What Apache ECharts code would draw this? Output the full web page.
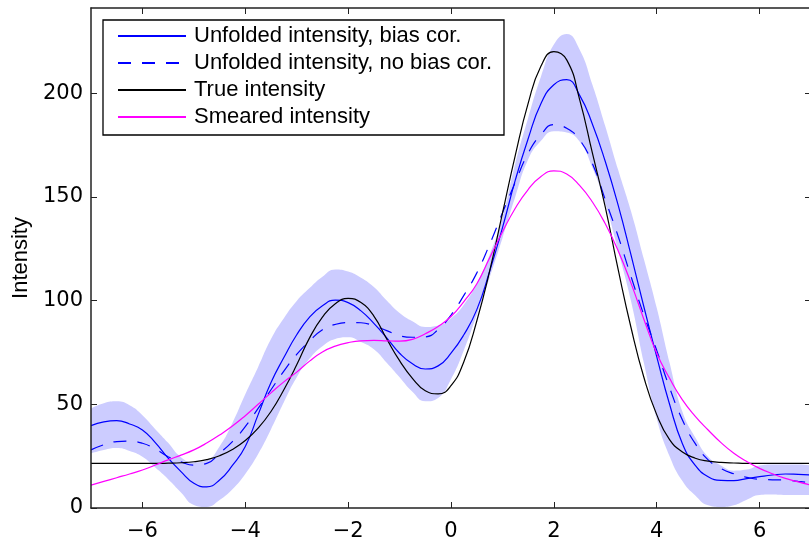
<!DOCTYPE html>
<html>
<head>
<meta charset="utf-8">
<script src="https://cdn.jsdelivr.net/npm/echarts@6/dist/echarts.min.js"></script>
<style>html,body{margin:0;padding:0;background:#fff}#chart{width:809px;height:538px}</style>
</head>
<body>
<div id="chart"></div>
<script>
const xs = [-7,-6.75,-6.5,-6.25,-6,-5.75,-5.5,-5.25,-5,-4.75,-4.5,-4.25,-4,-3.75,-3.5,-3.25,-3,-2.75,-2.5,-2.25,-2,-1.75,-1.5,-1.25,-1,-0.75,-0.5,-0.25,0,0.25,0.5,0.75,1,1.25,1.5,1.75,2,2.25,2.5,2.75,3,3.25,3.5,3.75,4,4.25,4.5,4.75,5,5.25,5.5,5.75,6,6.25,6.5,6.75,7];

const trueIntensity = [21.5,21.5,21.5,21.5,21.5,21.5,21.6,21.8,22.3,23.3,25.2,28.2,32.5,38.5,46.5,57,69,82,92,98.5,101,99,92.5,81.5,71,62.5,56.5,55,59,70.5,90,114,142,170,195,213,220,216,197,171,145,115,87,63,45,33,27,24,22.6,22,21.7,21.5,21.5,21.5,21.5,21.5,21.5];

const smearedIntensity = [11,12.8,14.6,16.4,18.3,20.7,23.2,25.5,28,31.3,35.2,39.5,44.5,50,55.5,60.8,65.5,70.8,75.2,78,79.7,80.6,80.8,80.6,80.4,81.3,84,87.5,92.3,99.5,108,120.5,133,144.5,153.5,159.8,162.5,161,155.5,147.5,137,124,108.4,91,74.6,62.5,52.1,44.2,37.6,31.5,26.4,22.4,19.1,16.5,14.3,12.6,11.1];

const unfoldedBiasCor = [39.7,41.5,42.1,40.5,37.6,31.5,24,17.5,11.9,10.2,13.5,20.5,29.6,45,60.5,72.5,83.5,92,97.5,100.2,99,95,89,82,74.6,69.5,67,68.5,74.6,83.5,95.5,114,135,158,178,195,204,206.5,199,185,167,146,122,97,73,50,31,20.5,15.1,13.3,13.2,14.2,15.1,15.9,16.4,16.2,15.9];

const unfoldedNoBiasCor = [28,30.5,32,32.2,31.2,28.5,24.7,22.2,20.7,21.5,26.4,32,39.2,48,57,66,74,80.5,85.9,88.5,89.4,89.3,87.8,85.5,83,82.3,82.5,86,93,102.5,113.2,127,142.2,157,171,180,184.8,183,177.5,166,148.6,131,111.6,93,76,58,42.4,31,23.2,19,16.5,14.8,13.8,13.6,13.5,12.8,12.2];

const bandUpper = [48,50.5,51.4,49.5,44.7,38,31.4,24.5,22,23,29.7,41,54.8,68,81.5,91.5,99.8,106,111.5,115,114,111,106.5,100,94,90,87.3,88,91.5,98,108.2,122,140,166,188,208,223.4,228.5,221,204,184,163,143,120,96.5,70,46.4,34,24.7,20.5,18,18.5,20.5,21,21,21,20.5];

const bandLower = [26.4,28,28.9,27.5,24.7,19.5,13.9,7.5,1.5,0.5,3.8,9,16.4,26,38,51,63,72,78,81.5,82.3,80,76.5,70,63,56,51.4,53,62,76,93,111,130,150,168,177,181.6,181,176.6,164,146.6,124,99.8,70,43,25,13,6,1.3,0.5,1.3,4,6.3,6.5,6.3,6.3,6.3];

const xTicks = [-6,-4,-2,0,2,4,6];
const yTicks = [0,50,100,150,200];
const seriesNames = ['Unfolded intensity, bias cor.','Unfolded intensity, no bias cor.','True intensity','Smeared intensity'];

const pair = arr => xs.map((x, i) => [x, arr[i]]);
const FONT = "'Liberation Sans', Arial, Helvetica, sans-serif";
const TICKFONT = "'DejaVu Sans', sans-serif";
const fmt = v => String(v).replace('-', '\u2212');

const axisLineStyle = { color: '#222', width: 1.5 };
const tickStyle = { color: '#222', width: 1 };

const chart = echarts.init(document.getElementById('chart'), null, { renderer: 'canvas' });
chart.setOption({
  animation: false,
  backgroundColor: '#fff',
  grid: { left: 91, right: -2, top: 8, bottom: 30, containLabel: false, outerBoundsMode: 'none' },
  xAxis: [
    {
      type: 'value', min: -7, max: 7, position: 'bottom', z: 10,
      axisLine: { show: true, onZero: false, lineStyle: axisLineStyle },
      axisTick: { show: true, inside: true, length: 6, lineStyle: tickStyle, customValues: xTicks },
      axisLabel: { show: true, customValues: xTicks, formatter: fmt, margin: 13, color: '#000', fontSize: 21, fontFamily: TICKFONT },
      splitLine: { show: false }
    },
    {
      type: 'value', min: -7, max: 7, position: 'top', z: 10,
      axisLine: { show: true, onZero: false, lineStyle: axisLineStyle },
      axisTick: { show: true, inside: true, length: 6, lineStyle: tickStyle, customValues: xTicks },
      axisLabel: { show: false },
      splitLine: { show: false }
    }
  ],
  yAxis: [
    {
      type: 'value', min: 0, max: 241, position: 'left', z: 10,
      name: 'Intensity', nameLocation: 'middle', nameRotate: 90, nameGap: 57,
      nameTextStyle: { color: '#000', fontSize: 22, fontFamily: FONT },
      axisLine: { show: true, onZero: false, lineStyle: axisLineStyle },
      axisTick: { show: true, inside: true, length: 6, lineStyle: tickStyle, customValues: yTicks },
      axisLabel: { show: true, customValues: yTicks, margin: 8, padding: [5, 0, 0, 0], color: '#000', fontSize: 21, fontFamily: TICKFONT },
      splitLine: { show: false }
    },
    {
      type: 'value', min: 0, max: 241, position: 'right', z: 10,
      axisLine: { show: true, onZero: false, lineStyle: axisLineStyle },
      axisTick: { show: true, inside: true, length: 6, lineStyle: tickStyle, customValues: yTicks },
      axisLabel: { show: false },
      splitLine: { show: false }
    }
  ],
  legend: {
    data: seriesNames,
    orient: 'vertical',
    left: 103, top: 20, z: 20,
    padding: [5, 12, 7, 14],
    itemGap: 5,
    itemWidth: 68, itemHeight: 14,
    itemStyle: { opacity: 0 },
    backgroundColor: '#fff',
    borderColor: '#000', borderWidth: 1.3,
    textStyle: { color: '#000', fontSize: 22, fontFamily: FONT, padding: [0, 0, 0, 3] }
  },
  series: [
    {
      name: 'bandUpper', type: 'line', data: pair(bandUpper),
      smooth: true, symbol: 'none', silent: true,
      lineStyle: { width: 0, opacity: 0 },
      areaStyle: { color: '#ccccff', opacity: 1, origin: 'start' }
    },
    {
      name: 'bandLower', type: 'line', data: pair(bandLower),
      smooth: true, symbol: 'none', silent: true,
      lineStyle: { width: 0, opacity: 0 },
      areaStyle: { color: '#ffffff', opacity: 1, origin: 'start' }
    },
    {
      name: seriesNames[0], type: 'line', data: pair(unfoldedBiasCor),
      smooth: true, symbol: 'none', color: '#0000ff',
      lineStyle: { color: '#0000ff', width: 1.2 }
    },
    {
      name: seriesNames[1], type: 'line', data: pair(unfoldedNoBiasCor),
      smooth: true, symbol: 'none', color: '#0000ff',
      lineStyle: { color: '#0000ff', width: 1.2, type: [13, 11] }
    },
    {
      name: seriesNames[2], type: 'line', data: pair(trueIntensity),
      smooth: true, symbol: 'none', color: '#000000',
      lineStyle: { color: '#000000', width: 1.2 }
    },
    {
      name: seriesNames[3], type: 'line', data: pair(smearedIntensity),
      smooth: true, symbol: 'none', color: '#ff00ff',
      lineStyle: { color: '#ff00ff', width: 1.2 }
    }
  ]
});
</script>
</body>
</html>
